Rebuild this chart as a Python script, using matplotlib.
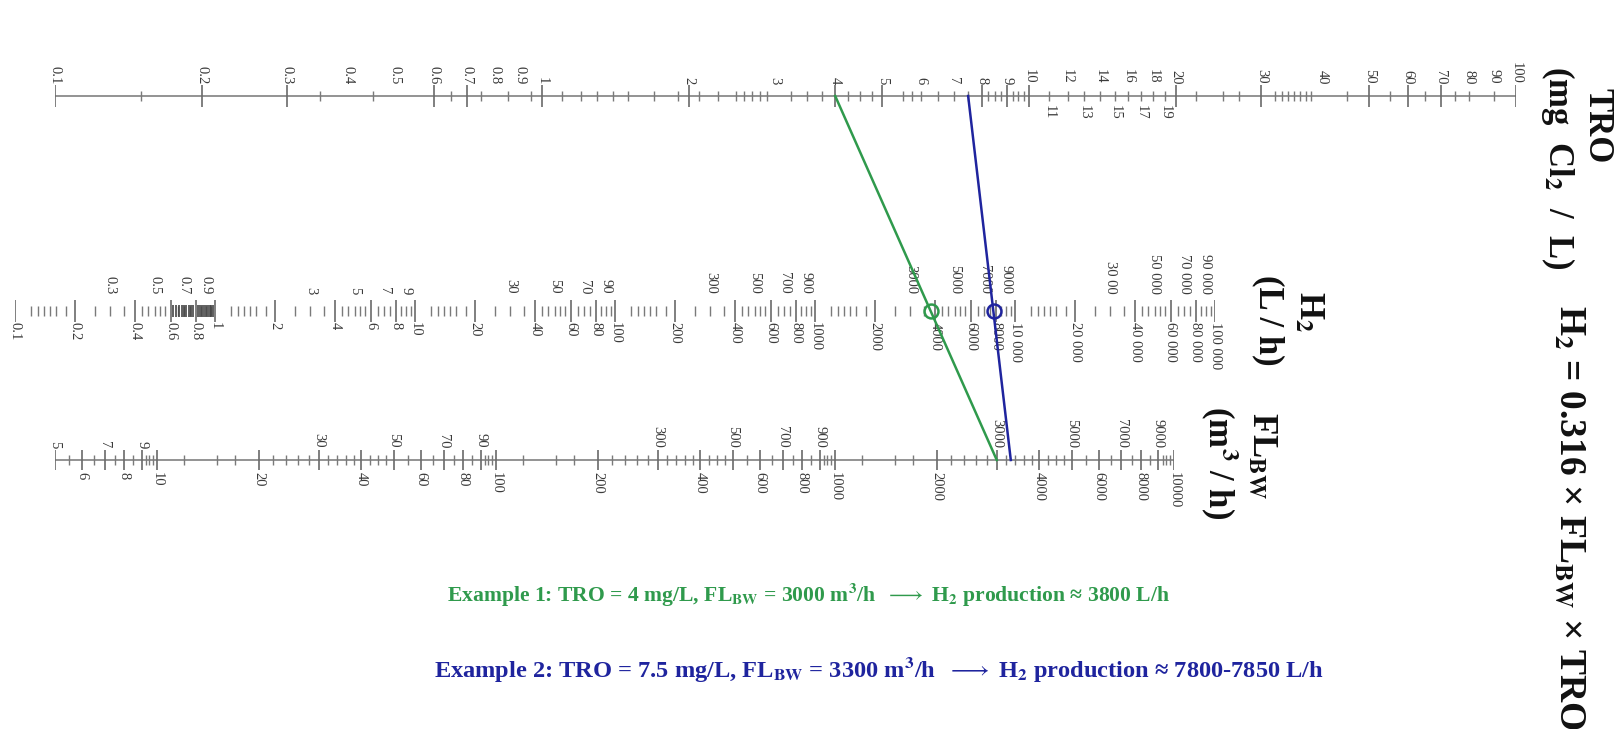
import matplotlib.pyplot as plt

W, H = 1621, 729

# ---- TRO scale (mg Cl2 / L) ----
tro_top = [0.1, 0.2, 0.3, 0.4, 0.5, 0.6, 0.7, 0.8, 0.9, 1, 2, 3, 4, 5, 6, 7, 8, 9, 10,
           12, 14, 16, 18, 20, 30, 40, 50, 60, 70, 80, 90, 100]
tro_bottom = [11, 13, 15, 17, 19]
tro_long = [0.1, 0.2, 0.3, 0.6, 0.7, 1, 2, 4, 5, 8, 9, 10, 20, 30, 50, 60, 70, 100]
tro_short = [0.15, 0.35, 0.45, 0.65, 0.75, 0.85, 0.95, 1.1, 1.2, 1.3, 1.4, 1.5, 1.7, 1.9,
             2.1, 2.3, 2.5, 2.6, 2.7, 2.8, 2.9, 3.25, 3.5, 3.75, 4.25, 4.5, 4.75, 5.5, 5.75,
             6, 6.5, 7, 7.5, 8.25, 8.5, 8.75, 9.25, 9.5, 9.75, 11, 12, 13, 14, 15, 16, 17,
             18, 19, 22, 25, 27, 32, 33, 34, 35, 36, 37, 38, 45, 55, 65, 75, 80, 90]

# ---- H2 scale (L / h) ----
h2_top = [0.3, 0.5, 0.7, 0.9, 3, 5, 7, 9, 30, 50, 70, 90, 300, 500, 700, 900,
          3000, 5000, 7000, 9000, 30000, 50000, 70000, 90000]
h2_top_text = ['0.3', '0.5', '0.7', '0.9', '3', '5', '7', '9', '30', '50', '70', '90',
               '300', '500', '700', '900', '3000', '5000', '7000', '9000',
               '30 00', '50 000', '70 000', '90 000']
h2_bottom = [0.1, 0.2, 0.4, 0.6, 0.8, 1, 2, 4, 6, 8, 10, 20, 40, 60, 80, 100, 200, 400,
             600, 800, 1000, 2000, 4000, 6000, 8000, 10000, 20000, 40000, 60000, 80000, 100000]
h2_bottom_text = ['0.1', '0.2', '0.4', '0.6', '0.8', '1', '2', '4', '6', '8', '10', '20',
                  '40', '60', '80', '100', '200', '400', '600', '800', '1000', '2000',
                  '4000', '6000', '8000', '10 000', '20 000', '40 000', '60 000',
                  '80 000', '100 000']
h2_minor_mult = [1.2, 1.3, 1.4, 1.5, 1.6, 1.8, 2.5, 3, 3.5, 4.3, 4.6, 5, 5.3, 5.6,
                 6.5, 7, 7.5, 8.5, 9, 9.5]
h2_dense = [0.62, 0.64, 0.66, 0.68, 0.7, 0.72, 0.74, 0.76, 0.78, 0.82, 0.84, 0.86,
            0.88, 0.9, 0.92, 0.94, 0.96, 0.98]

# ---- FL_BW scale (m3 / h) ----
fl_top = [5, 7, 9, 30, 50, 70, 90, 300, 500, 700, 900, 3000, 5000, 7000, 9000]
fl_bottom = [6, 8, 10, 20, 40, 60, 80, 100, 200, 400, 600, 800, 1000, 2000, 4000,
             6000, 8000, 10000]
fl_minor_mult = [1.2, 1.5, 1.7, 2.2, 2.4, 2.6, 2.8, 3.2, 3.4, 3.6, 3.8, 4.25, 4.5,
                 4.75, 5.5, 6.5, 7.5, 8.5, 9.25, 9.5, 9.75]

# ---- worked examples ----
ex_tro = [4, 7.5]
ex_fl = [3000, 3300]
ex_h2 = [3800, 7850]
ex_colors = ['#2f9a4c', '#1f249e']
ex_text = [r'Example 1: TRO = 4 mg/L, FL$_\mathbf{BW}$ = 3000 m$^\mathbf{3}$/h  $\longrightarrow$ H$_\mathbf{2}$ production ≈ 3800 L/h',
           r'Example 2: TRO = 7.5 mg/L, FL$_\mathbf{BW}$ = 3300 m$^\mathbf{3}$/h  $\longrightarrow$ H$_\mathbf{2}$ production ≈ 7800-7850 L/h']

plt.rcParams['font.family'] = ['Liberation Serif', 'DejaVu Serif']
plt.rcParams['mathtext.fontset'] = 'stix'

fig = plt.figure(figsize=(W / 100, H / 100), dpi=100)
fig.patch.set_facecolor('white')

LAB = dict(rotation=270, ha='center', fontsize=10.5, color='#3a3a3a')


def scale_axes(y, x0, x1, lims):
    """ axes with a log x-scale, y in pixels (down is positive) around the scale line """
    ax = fig.add_axes([x0 / W, 1 - (y + 30) / H, (x1 - x0) / W, 60 / H])
    ax.set_xscale('log')
    ax.set_xlim(*lims)
    ax.set_ylim(30, -30)
    ax.axis('off')
    return ax


def fmt(v):
    return '%g' % v


# TRO
ax_tro = scale_axes(96, 55, 1516, (0.1, 100))
ax_tro.axhline(0, color='#8a8a8a', lw=1.3)
ax_tro.vlines(tro_long, -11, 11, color='#6a6a6a', lw=1.2)
ax_tro.vlines(tro_short, -5, 5, color='#7a7a7a', lw=1.0)
for v in tro_top:
    ax_tro.text(v, -12, fmt(v), va='bottom', **LAB)
for v in tro_bottom:
    ax_tro.text(v, 9, fmt(v), va='top', **LAB)

# H2
ax_h2 = scale_axes(311, 15, 1215, (0.1, 100000))
decades = [0.1, 1, 10, 100, 1000, 10000]
h2_minor = [m * d for d in decades for m in h2_minor_mult]
ax_h2.vlines(h2_minor, -5, 5, color='#7a7a7a', lw=1.0)
ax_h2.vlines(h2_dense, -6, 6, color='#444444', lw=1.2)
ax_h2.vlines(h2_bottom, -11, 11, color='#6a6a6a', lw=1.2)
for v, t in zip(h2_top, h2_top_text):
    ax_h2.text(v, -17, t, va='bottom', **LAB)
for v, t in zip(h2_bottom, h2_bottom_text):
    ax_h2.text(v, 11, t, va='top', **LAB)

# FL_BW
ax_fl = scale_axes(460, 55, 1174, (5, 10000))
fl_decades = [1, 10, 100, 1000]
fl_minor = [m * d for d in fl_decades for m in fl_minor_mult if 5 < m * d < 10000]
ax_fl.axhline(0, color='#8a8a8a', lw=1.3)
ax_fl.vlines(fl_minor, -5, 5, color='#7a7a7a', lw=1.0)
ax_fl.vlines(fl_top + fl_bottom, -10, 10, color='#6a6a6a', lw=1.2)
for v in fl_top:
    ax_fl.text(v, -12, fmt(v), va='bottom', **LAB)
for v in fl_bottom:
    ax_fl.text(v, 12, fmt(v), va='top', **LAB)

# overlay in pixel coordinates for the isopleths and the titles
ov = fig.add_axes([0, 0, 1, 1], zorder=5)
ov.set_xlim(0, W)
ov.set_ylim(H, 0)
ov.axis('off')
ov.patch.set_alpha(0)


def to_px(ax, v):
    return ov.transData.inverted().transform(ax.transData.transform((v, 0)))


for t, f, h, c in zip(ex_tro, ex_fl, ex_h2, ex_colors):
    p1 = to_px(ax_tro, t)
    p2 = to_px(ax_fl, f)
    ov.plot([p1[0], p2[0]], [p1[1], p2[1]], color=c, lw=1.8)
    p3 = to_px(ax_h2, h)
    ov.plot(p3[0], p3[1], 'o', ms=10, mfc='none', mec=c, mew=1.8)

TITLE = dict(rotation=270, ha='center', va='center', fontsize=25, fontweight='bold',
             color='#111111')
ov.text(1597, 126, 'TRO', **TITLE)
ov.text(1558, 168, '(mg  Cl$_\\mathbf{2}$  /  L)', **TITLE)
ov.text(1308, 312, 'H$_\\mathbf{2}$', **TITLE)
ov.text(1268, 320, '(L / h)', **TITLE)
ov.text(1262, 455, 'FL$_\\mathbf{BW}$', **TITLE)
ov.text(1220, 463, '(m$^\\mathbf{3}$ / h)', **TITLE)
ov.text(1570, 517, 'H$_\\mathbf{2}$ = 0.316 × FL$_\\mathbf{BW}$ × TRO', rotation=270,
        ha='center', va='center', fontsize=27, fontweight='bold', color='#111111')

ov.text(447, 595, ex_text[0], ha='left', va='center', fontsize=15.6, fontweight='bold',
        color=ex_colors[0])
ov.text(434, 669, ex_text[1], ha='left', va='center', fontsize=17.6, fontweight='bold',
        color=ex_colors[1])

fig.savefig('out.png', dpi=100, facecolor='white')
